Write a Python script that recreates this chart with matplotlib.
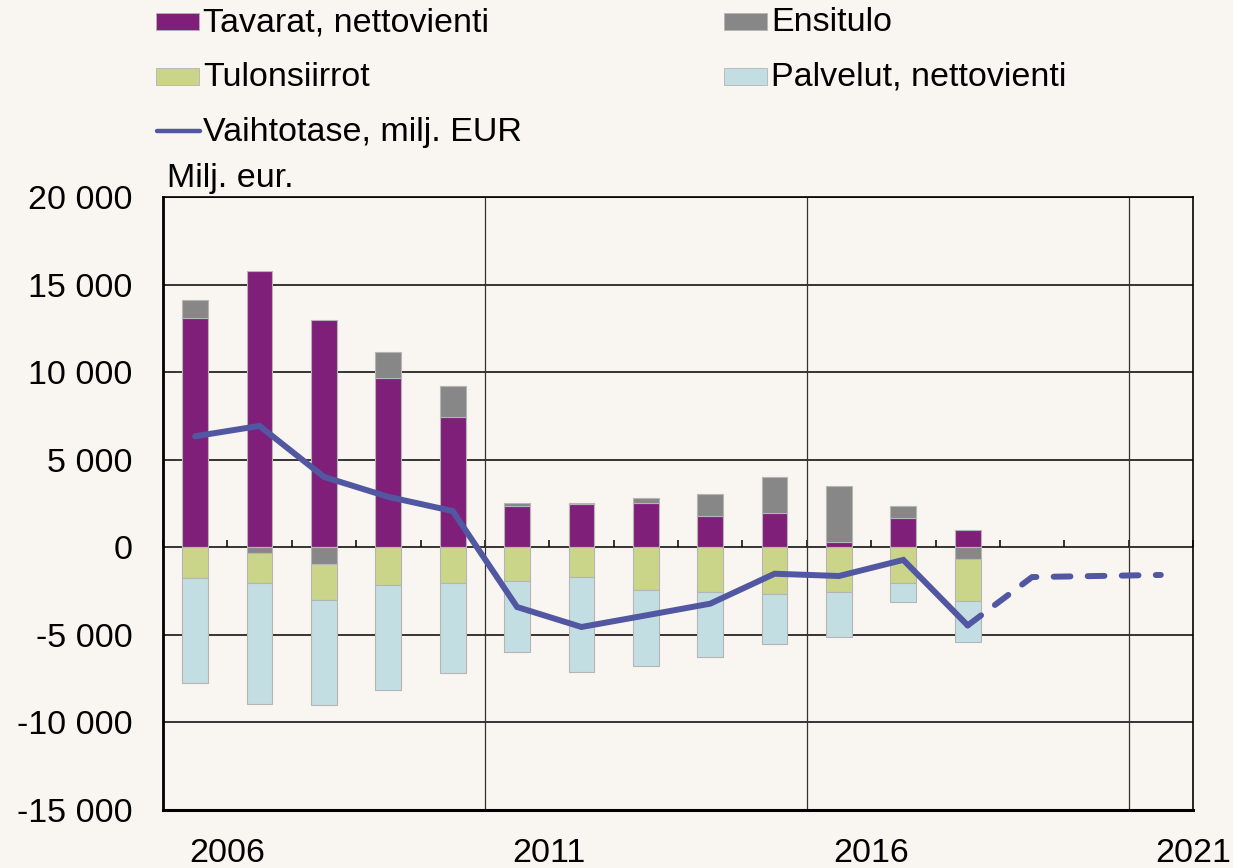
import numpy as np
import matplotlib
matplotlib.use("Agg")
import matplotlib.pyplot as plt
from matplotlib.patches import Rectangle
from matplotlib.lines import Line2D

plt.rcParams['font.family'] = ['Liberation Sans', 'DejaVu Sans']

years = list(range(2006, 2022))  # 16 categories
tavarat = [13100, 15770, 12970, 9640, 7430, 2360, 2470, 2530, 1770, 1940, 330, 1700, 990]
ensitulo = [1000, -330, -970, 1500, 1790, 190, 60, 270, 1260, 2100, 3160, 660, -690]
tulonsiirrot = [-1750, -1710, -2040, -2170, -2060, -1940, -1710, -2420, -2530, -2670, -2550, -2060, -2400]
palvelut = [-5980, -6890, -5980, -5960, -5100, -4060, -5410, -4360, -3720, -2830, -2550, -1060, -2300]
vaihtotase = [6340, 6930, 4020, 2880, 2070, -3410, -4550, -3890, -3220, -1510, -1640, -720, -4460]
ennuste = [-4460, -1700, -1640, -1580]  # starts at last actual point
tick_labels = ["2006", "2011", "2016", "2021"]

names = ["Tavarat, nettovienti", "Ensitulo", "Tulonsiirrot", "Palvelut, nettovienti"]
line_name = "Vaihtotase, milj. EUR"
colors = ["#7F1F7A", "#878787", "#CBD58A", "#C3DEE2"]
line_color = "#5257A1"
bg = "#F9F5F0"
FS = 24.5

W, H = 1233, 868
fig = plt.figure(figsize=(W / 100, H / 100), dpi=100, facecolor=bg)
ax = fig.add_axes([163 / W, 1 - 810 / H, (1193 - 163) / W, (810 - 197) / H], facecolor=bg)

n = len(tavarat)
x = np.arange(n)
pos_bottom = np.zeros(n)
neg_bottom = np.zeros(n)
for vals, col in zip([tavarat, ensitulo, tulonsiirrot, palvelut], colors):
    v = np.array(vals, dtype=float)
    bottoms = np.where(v >= 0, pos_bottom, neg_bottom)
    ax.bar(x, v, bottom=bottoms, width=0.4, color=col, edgecolor="#B5B5B5",
           linewidth=0.8, zorder=3)
    pos_bottom = pos_bottom + np.where(v >= 0, v, 0)
    neg_bottom = neg_bottom + np.where(v < 0, v, 0)

ax.plot(x, vaihtotase, color=line_color, lw=4.3, solid_capstyle='round',
        solid_joinstyle='miter', zorder=5)
xf = np.arange(n - 1, n - 1 + len(ennuste))
ax.plot(xf, ennuste, color=line_color, lw=4.3, linestyle=(0, (2.8, 2.9)),
        dash_capstyle='round', zorder=5)

ax.set_xlim(-0.5, len(years) - 0.5)
ax.set_ylim(-15000, 20000)

for yv in range(-15000, 20001, 5000):
    ax.axhline(yv, color="black", lw=1.1, zorder=1)
for b in [4.5, 9.5, 14.5]:
    ax.axvline(b, color="#333333", lw=0.9, zorder=1)

ax.set_yticks(range(-15000, 20001, 5000))
ax.set_yticklabels([f"{v:,}".replace(",", " ") for v in range(-15000, 20001, 5000)])
label_idx = [0, 5, 10, 15]
ax.set_xticks([i + 0.5 for i in label_idx])
ax.set_xticklabels(tick_labels)
ax.tick_params(axis='both', length=0, labelsize=FS, colors="black")
ax.tick_params(axis='y', pad=22)
ax.tick_params(axis='x', pad=20)

# small ticks on zero line
sec = ax.secondary_xaxis(15000 / 35000)
sec.set_xticks(np.arange(len(years) + 1) - 0.5)
sec.tick_params(direction='in', length=5, width=1.1, labelbottom=False, labeltop=False)
sec.spines['bottom'].set_visible(False)
sec.spines['top'].set_visible(False)
sec.set_xticklabels([])

for s in ax.spines.values():
    s.set_color("black")
    s.set_linewidth(1.2)
ax.spines['left'].set_linewidth(2)
ax.spines['bottom'].set_linewidth(2.2)

fig.text(167 / W, 1 - 187 / H, "Milj. eur.", fontsize=FS, ha='left', va='baseline')

# legend (manual layout, two columns)
entries = [(names[0], colors[0], 'patch', 0, 0),
           (names[1], colors[1], 'patch', 1, 0),
           (names[2], colors[2], 'patch', 0, 1),
           (names[3], colors[3], 'patch', 1, 1),
           (line_name, line_color, 'line', 0, 2)]
col_x = [156, 724]
row_c = [21.2, 76.2, 131.2]
for label, col, kind, c, r in entries:
    hx = col_x[c]
    yc = row_c[r]
    if kind == 'patch':
        fig.patches.append(Rectangle((hx / W, 1 - (yc + 8.5) / H), 43 / W, 17 / H,
                                     transform=fig.transFigure, facecolor=col,
                                     edgecolor="#B5B5B5", linewidth=0.6))
    else:
        fig.add_artist(Line2D([(hx + 1) / W, (hx + 44) / W], [1 - yc / H, 1 - yc / H],
                              transform=fig.transFigure, color=col, lw=3.2,
                              solid_capstyle='round'))
    fig.text((hx + 47) / W, 1 - (yc + 9.8) / H, label, fontsize=FS, ha='left',
             va='baseline')

fig.savefig("out.png", dpi=100, facecolor=bg)
